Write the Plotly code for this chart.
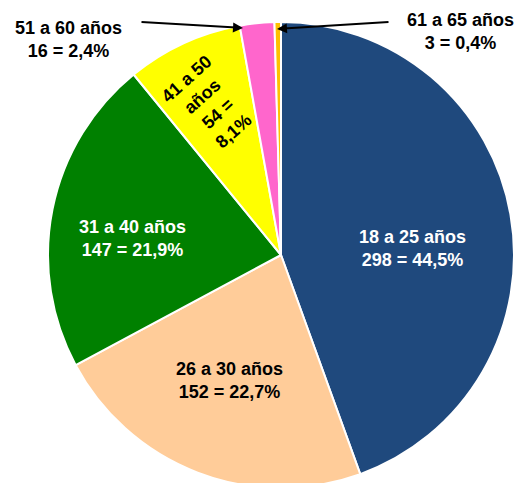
import plotly.graph_objects as go

# ---- data ----
categories = ["18 a 25 años", "26 a 30 años", "31 a 40 años", "41 a 50 años", "51 a 60 años", "61 a 65 años"]
counts = [298, 152, 147, 54, 16, 3]
colors = ["#1F497D", "#FFCC99", "#008000", "#FFFF00", "#FF66CC", "#FFC000"]

W, H = 530, 483
OFF = 8  # page body margin
total = sum(counts)
pcts = [f"{c / total * 100:.1f}".replace(".", ",") for c in counts]

fig = go.Figure(go.Pie(
    labels=categories,
    values=counts,
    sort=False,
    direction="clockwise",
    rotation=0,
    marker=dict(colors=colors, line=dict(color="white", width=2)),
    textinfo="none",
    hoverinfo="label+value+percent",
    showlegend=False,
    domain=dict(x=[40 / W, 506 / W], y=[3 / H, 469 / H]),
))

FONT = "Liberation Sans, Arial, sans-serif"
FS = 18


def px(x, y):
    return (x - OFF) / W, 1 - (y - OFF) / H


def label(i, x, y, color, angle=0, split=None):
    name = categories[i]
    if split:
        txt = split.format(n=counts[i], p=pcts[i])
    else:
        txt = f"{name}<br>{counts[i]} = {pcts[i]}%"
    X, Y = px(x, y)
    fig.add_annotation(
        x=X, y=Y, xref="paper", yref="paper", text=f"<b>{txt}</b>",
        showarrow=False, textangle=angle, xanchor="center", yanchor="middle",
        font=dict(family=FONT, size=FS, color=color), align="center",
    )


label(0, 412, 248, "white")
label(1, 229, 380, "black")
label(2, 132, 238, "white")
label(3, 210, 105, "black", angle=-42, split="41 a 50<br>años<br>{n} =<br>{p}%")
label(4, 68, 39, "black")
label(5, 460, 32, "black")


def arrow(x0, y0, x1, y1):
    X1, Y1 = px(x1, y1)
    fig.add_annotation(
        x=X1, y=Y1, xref="paper", yref="paper", text="",
        showarrow=True, ax=x0 - x1, ay=y0 - y1, axref="pixel", ayref="pixel",
        arrowhead=2, arrowsize=1, arrowwidth=2, arrowcolor="black",
    )


arrow(140, 22, 243, 28)
arrow(390, 22, 277, 29)

fig.update_layout(
    width=W, height=H,
    margin=dict(l=0, r=0, t=0, b=0),
    paper_bgcolor="white", plot_bgcolor="white",
)

fig.write_html("out.html")
